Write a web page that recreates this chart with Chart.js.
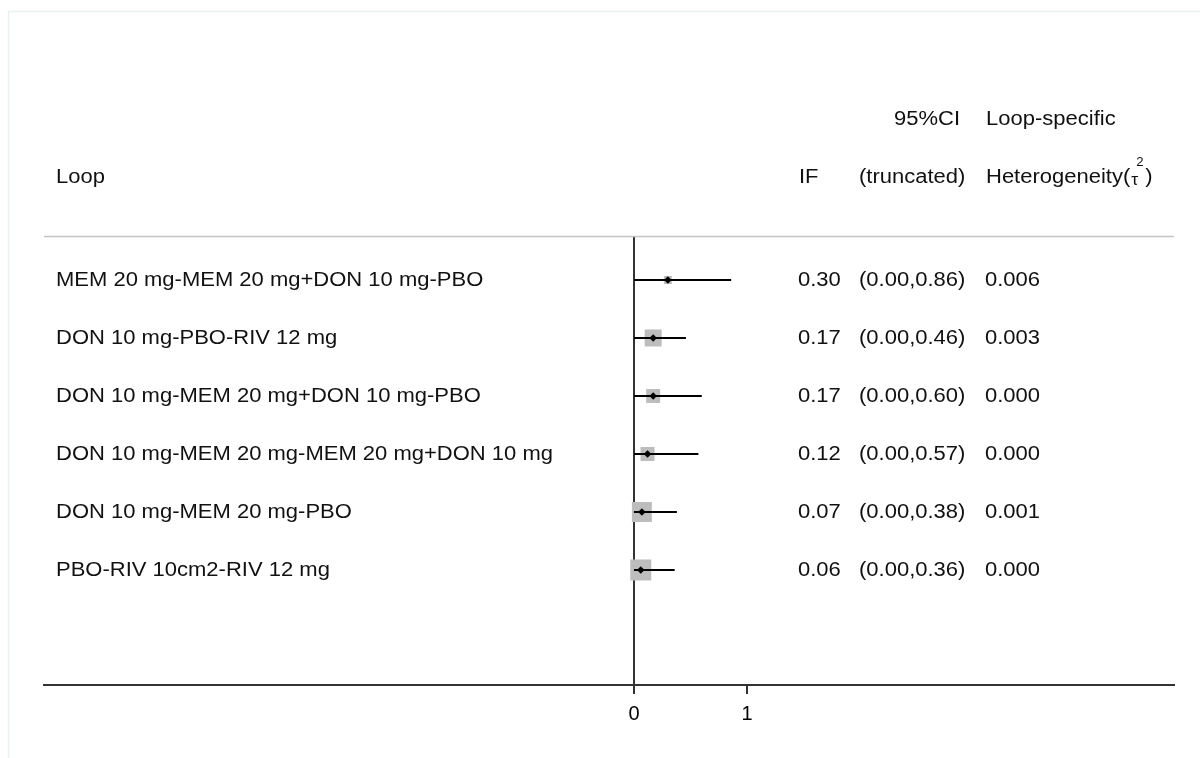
<!DOCTYPE html>
<html>
<head>
<meta charset="utf-8">
<title>Loop inconsistency</title>
<script src="https://cdn.jsdelivr.net/npm/chart.js@4"></script>
<style>
  html, body { margin: 0; padding: 0; background: #fff; }
  #wrap { position: relative; width: 1200px; height: 758px; }
</style>
</head>
<body>
<div id="wrap"><canvas id="c" width="1200" height="758"></canvas></div>
<script>
// Closed loops of the treatment network
const loops = [
  'MEM 20 mg-MEM 20 mg+DON 10 mg-PBO',
  'DON 10 mg-PBO-RIV 12 mg',
  'DON 10 mg-MEM 20 mg+DON 10 mg-PBO',
  'DON 10 mg-MEM 20 mg-MEM 20 mg+DON 10 mg',
  'DON 10 mg-MEM 20 mg-PBO',
  'PBO-RIV 10cm2-RIV 12 mg'
];
// Inconsistency factor and its truncated 95% CI
const ifValues = [0.30, 0.17, 0.17, 0.12, 0.07, 0.06];
const ciLow    = [0.00, 0.00, 0.00, 0.00, 0.00, 0.00];
const ciHigh   = [0.86, 0.46, 0.60, 0.57, 0.38, 0.36];
// Loop-specific heterogeneity (tau^2)
const tau2     = [0.006, 0.003, 0.000, 0.000, 0.001, 0.000];
// Relative weight of each loop (box area)
const weights  = [0.145, 0.655, 0.444, 0.444, 0.907, 1.0];
// Axis ticks
const xTicks   = [0, 1];

const FONT = '"Liberation Sans", Arial, sans-serif';
const TXT = '#111';
const SIZE = 20;     // text size
const SX = 1.1;      // horizontal stretch of the table text

const rowIndex = loops.map((_, i) => i);

const ciData = [];
rowIndex.forEach(i => {
  ciData.push({ x: ciLow[i], y: i });
  ciData.push({ x: ciHigh[i], y: i });
  ciData.push({ x: null, y: null });
});

// draws stretched text, returns its drawn width
function put(ctx, s, x, y, size) {
  ctx.save();
  ctx.font = size + 'px ' + FONT;
  ctx.translate(x, y);
  ctx.scale(SX, 1);
  ctx.fillText(s, 0, 0);
  const w = ctx.measureText(s).width * SX;
  ctx.restore();
  return w;
}

const textPlugin = {
  id: 'forestText',
  beforeDatasetsDraw(chart) {
    const { ctx, chartArea } = chart;
    ctx.save();
    ctx.strokeStyle = '#c4c4c4';
    ctx.lineWidth = 1.5;
    ctx.beginPath();
    ctx.moveTo(chartArea.left, chartArea.top - 0.5);
    ctx.lineTo(chartArea.right, chartArea.top - 0.5);
    ctx.stroke();
    // faint frame
    ctx.strokeStyle = '#eaf0f0';
    ctx.lineWidth = 1.5;
    ctx.beginPath();
    ctx.moveTo(8.5, 800);
    ctx.lineTo(8.5, 11.5);
    ctx.lineTo(1250, 11.5);
    ctx.stroke();
    ctx.restore();
  },
  afterDraw(chart) {
    const { ctx } = chart;
    const y = chart.scales.y;
    ctx.save();
    ctx.fillStyle = TXT;
    ctx.textBaseline = 'middle';
    ctx.textAlign = 'left';
    // headers
    put(ctx, 'Loop', 56, 177, SIZE);
    put(ctx, 'IF', 799, 177, SIZE);
    put(ctx, '95%CI', 894, 119, SIZE);
    put(ctx, '(truncated)', 859, 177, SIZE);
    put(ctx, 'Loop-specific', 986, 119, SIZE);
    const hx = 986 + put(ctx, 'Heterogeneity(', 986, 177, SIZE);
    put(ctx, '\u03C4', hx + 1, 181, 16);
    put(ctx, '2', hx + 6, 163, 12);
    put(ctx, ')', hx + 15, 177, SIZE);
    // rows
    rowIndex.forEach(i => {
      const py = y.getPixelForValue(i) + 1;
      put(ctx, loops[i], 56, py, SIZE);
      put(ctx, ifValues[i].toFixed(2), 798, py, SIZE);
      put(ctx, '(' + ciLow[i].toFixed(2) + ',' + ciHigh[i].toFixed(2) + ')', 859, py, SIZE);
      put(ctx, tau2[i].toFixed(3), 985, py, SIZE);
    });
    ctx.restore();
  }
};

new Chart(document.getElementById('c'), {
  type: 'scatter',
  data: {
    datasets: [
      {
        label: 'weight',
        data: rowIndex.map(i => ({ x: ifValues[i], y: i })),
        pointStyle: 'rect',
        pointRadius: ctx => 21 * Math.sqrt(weights[ctx.dataIndex]) / 1.4142,
        backgroundColor: '#bdbdbd',
        borderWidth: 0,
        order: 3
      },
      {
        label: 'ci',
        data: ciData,
        showLine: true,
        spanGaps: false,
        borderColor: '#000',
        borderWidth: 2,
        pointRadius: 0,
        order: 2
      },
      {
        label: 'if',
        data: rowIndex.map(i => ({ x: ifValues[i], y: i })),
        pointStyle: 'rectRot',
        pointRadius: 3.8,
        backgroundColor: '#000',
        borderColor: '#000',
        borderWidth: 0,
        order: 1
      }
    ]
  },
  options: {
    responsive: false,
    animation: false,
    events: [],
    layout: { padding: { left: 44, right: 26, top: 237, bottom: 0 } },
    plugins: { legend: { display: false }, tooltip: { enabled: false } },
    scales: {
      x: {
        type: 'linear',
        min: -5.221,
        max: 4.779,
        afterBuildTicks: s => { s.ticks = xTicks.map(v => ({ value: v })); },
        afterFit: s => { s.height = 73; },
        border: { color: '#333', width: 2 },
        grid: {
          color: c => (c.tick && c.tick.value === 0 ? '#333' : 'rgba(0,0,0,0)'),
          lineWidth: 2,
          tickColor: '#333',
          tickWidth: 2,
          tickLength: 9,
          drawTicks: true
        },
        ticks: {
          color: '#000',
          font: { family: FONT, size: 20 },
          padding: 8,
          maxRotation: 0,
          callback: v => String(v)
        }
      },
      y: {
        type: 'linear',
        display: false,
        reverse: true,
        min: -0.741,
        max: 6.983
      }
    }
  },
  plugins: [textPlugin]
});
</script>
</body>
</html>
